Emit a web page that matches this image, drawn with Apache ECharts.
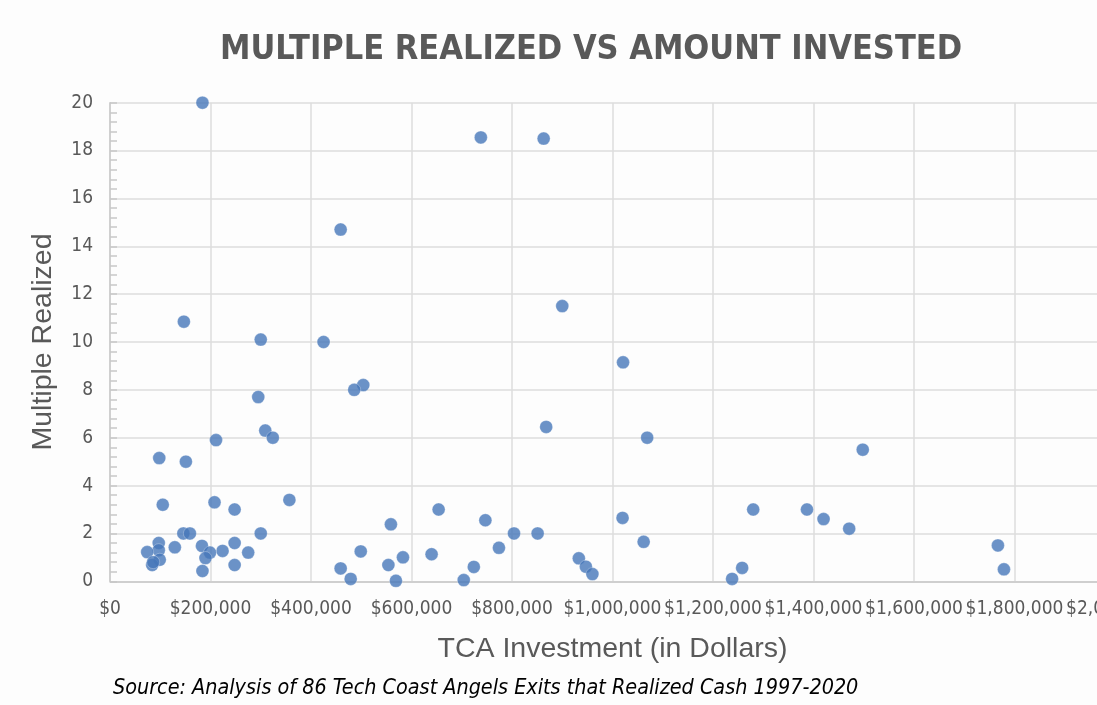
<!DOCTYPE html>
<html>
<head>
    <meta charset="UTF-8">
    <title>Multiple Realized vs Amount Invested</title>
    <script src="https://cdn.jsdelivr.net/npm/echarts@6/dist/echarts.min.js"></script>
    <style>
        html, body {margin: 0; padding: 0; background: #fdfdfd;}
        #chart {width: 1097px; height: 705px;}
    </style>
</head>
<body>

<div id="chart"></div>

<script>
    // TCA investment in dollars, one entry per exit
    var investment = [
        184000, 738000, 863000, 459000, 147000, 900000, 300000, 425000, 1021000, 504000,
        486000, 295000, 868000, 309000, 324000, 211000, 1069000, 1498000, 98000, 151000,
        357000, 208000, 105000, 248000, 654000, 1280000, 1387000, 1020000, 1420000, 747000,
        559000, 1471000, 146000, 159000, 300000, 804000, 851000, 1062000, 97000, 248000,
        1767000, 183000, 129000, 774000, 97000, 224000, 499000, 74000, 199000, 275000,
        640000, 583000, 190000, 933000, 99000, 84000, 248000, 554000, 947000, 724000,
        459000, 1258000, 1779000, 184000, 960000, 479000, 1238000, 704000, 569000, 86000
    ];
    // multiple realized for the same exits
    var multiple = [
        20.0, 18.55, 18.5, 14.7, 10.85, 11.5, 10.1, 10.0, 9.15, 8.2,
        8.0, 7.7, 6.45, 6.3, 6.0, 5.9, 6.0, 5.5, 5.15, 5.0,
        3.4, 3.3, 3.2, 3.0, 3.0, 3.0, 3.0, 2.65, 2.6, 2.55,
        2.38, 2.2, 2.0, 2.0, 2.0, 2.0, 2.0, 1.65, 1.6, 1.6,
        1.5, 1.48, 1.42, 1.4, 1.3, 1.27, 1.25, 1.22, 1.2, 1.2,
        1.13, 1.0, 0.97, 0.96, 0.9, 0.68, 0.68, 0.68, 0.61, 0.6,
        0.54, 0.56, 0.5, 0.43, 0.3, 0.1, 0.1, 0.05, 0.02, 0.8
    ];
    var xTicks = [0, 2000000, 200000];   // min, max, step
    var yTicks = [0, 20, 2];

    var points = [];
    for (var i = 0; i < investment.length; i++) {
        points.push([investment[i], multiple[i]]);
    }

    var grey = '#595959';
    var narrow = '"DejaVu Sans Condensed", sans-serif';
    var plain = '"Liberation Sans", sans-serif';

    var myChart = echarts.init(document.getElementById('chart'));
    var option = {
        backgroundColor: '#fdfdfd',
        animation: false,
        title: [{
            text: 'MULTIPLE REALIZED VS AMOUNT INVESTED',
            left: 591,
            top: 50,
            textAlign: 'center',
            textVerticalAlign: 'middle',
            padding: 0,
            textStyle: {
                color: grey,
                fontFamily: narrow,
                fontWeight: 'bold',
                fontSize: 34
            }
        }, {
            text: 'Source: Analysis of 86 Tech Coast Angels Exits that Realized Cash 1997-2020',
            left: 113,
            top: 688,
            textVerticalAlign: 'middle',
            padding: 0,
            textStyle: {
                color: '#000',
                fontFamily: narrow,
                fontStyle: 'italic',
                fontWeight: 'normal',
                fontSize: 21.4
            }
        }],
        grid: {
            left: 110,
            top: 102.7,
            right: -18,
            bottom: 123.7,
            outerBoundsMode: 'none',
            containLabel: false
        },
        xAxis: {
            type: 'value',
            min: xTicks[0],
            max: xTicks[1],
            interval: xTicks[2],
            name: 'TCA Investment (in Dollars)',
            nameLocation: 'middle',
            nameGap: 53,
            nameTextStyle: {color: grey, fontSize: 28.5, fontFamily: plain},
            axisLine: {show: true, lineStyle: {color: '#c8c8c8', width: 1.5}},
            axisTick: {show: false},
            axisLabel: {
                color: grey,
                fontSize: 19,
                fontFamily: narrow,
                margin: 18,
                showMinLabel: true,
                showMaxLabel: true,
                hideOverlap: false,
                formatter: function (v) {
                    return '$' + v.toLocaleString('en-US');
                }
            },
            splitLine: {show: true, lineStyle: {color: '#dcdcdc', width: 1.5}}
        },
        yAxis: {
            type: 'value',
            min: yTicks[0],
            max: yTicks[1],
            interval: yTicks[2],
            name: 'Multiple Realized',
            nameLocation: 'middle',
            nameGap: 52,
            nameTextStyle: {color: grey, fontSize: 28.5, fontFamily: plain},
            axisLine: {show: true, lineStyle: {color: '#c8c8c8', width: 1.5}},
            axisTick: {show: true, inside: true, length: 7, lineStyle: {color: '#c8c8c8', width: 1.5}},
            minorTick: {show: true, splitNumber: 5, length: 7, lineStyle: {color: '#c8c8c8', width: 1.5}},
            axisLabel: {color: grey, fontSize: 19, fontFamily: narrow, margin: 17},
            splitLine: {show: true, lineStyle: {color: '#dcdcdc', width: 1.5}}
        },
        series: [{
            name: 'Exits',
            type: 'scatter',
            symbolSize: 13,
            itemStyle: {color: '#4677b9', borderColor: 'rgba(255,255,255,0.6)', borderWidth: 0.6},
            data: points
        }]
    };
    myChart.setOption(option);
</script>

</body>
</html>
